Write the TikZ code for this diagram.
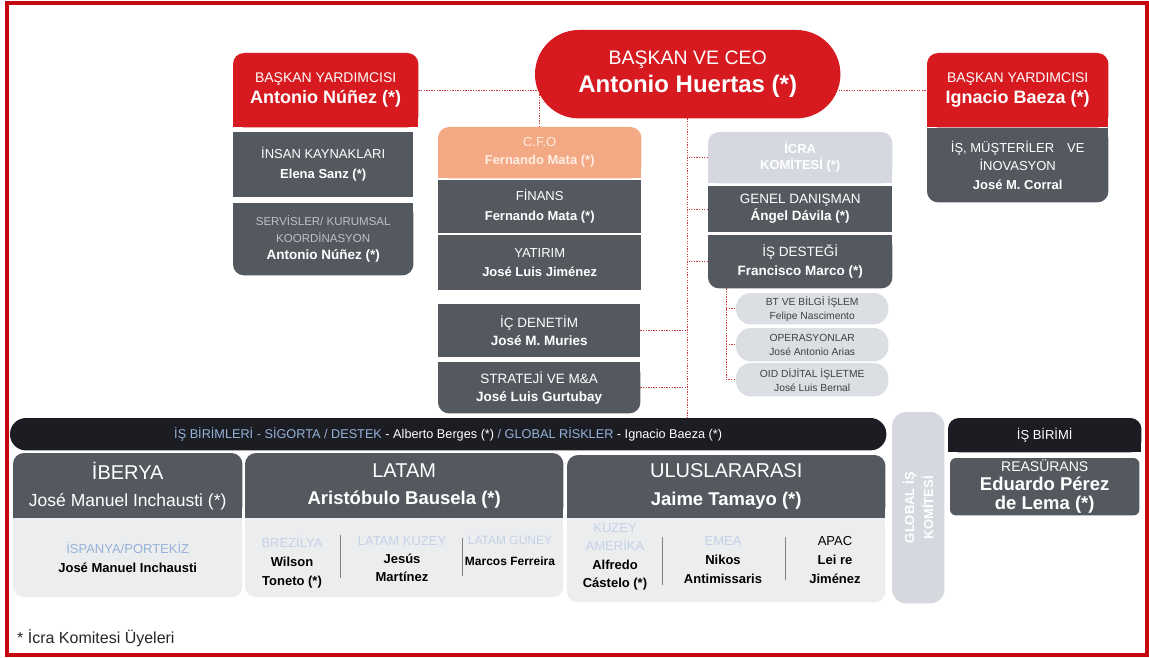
\documentclass[tikz,border=0pt]{standalone}
\usepackage{fontspec}
\setmainfont{Liberation Sans}
\usetikzlibrary{backgrounds}

\definecolor{mapred}{RGB}{214,26,31}
\definecolor{frame}{RGB}{198,8,16}
\definecolor{slate}{RGB}{84,89,96}
\definecolor{peach}{RGB}{243,170,132}
\definecolor{peachtxt}{RGB}{255,236,226}
\definecolor{mist}{RGB}{213,217,223}
\definecolor{pill}{RGB}{219,222,227}
\definecolor{ink}{RGB}{27,29,35}
\definecolor{paper}{RGB}{236,237,239}
\definecolor{sky}{RGB}{150,178,218}
\definecolor{pale}{RGB}{196,210,232}
\definecolor{lgray}{RGB}{190,194,199}
\definecolor{dots}{RGB}{200,60,60}

\newcommand\fsz[2]{\fontsize{#1}{#2}\selectfont}

\begin{document}
\begin{tikzpicture}[x=1pt, y=-1pt,
  box/.style={anchor=north west, inner sep=0pt, align=center, text=white},
  sz/.style 2 args={minimum width=#1, minimum height=#2},
  cell/.style={align=center, inner sep=0pt, text=black, font=\fsz{13}{19}},
  link/.style={draw=dots, line width=0.8pt, dash pattern=on 1.3pt off 1.3pt},
  sep/.style={draw=gray, line width=0.8pt},
]
\useasboundingbox (0,0) rectangle (1149,658);
\draw[frame, line width=4] (7,3) rectangle (1147,655);

% top of the chart
\node[box, sz={305}{88}, font=\fsz{19.5}{28}] (ceo) at (535,30) {BAŞKAN VE CEO\\\fsz{24}{28}\bfseries Antonio Huertas (*)};

\node[box, sz={185}{74}, font=\fsz{14}{21}] (vpl) at (233,53) {BAŞKAN YARDIMCISI\\\fsz{18}{21}\bfseries Antonio Núñez (*)};
\node[box, sz={180}{65}, font=\fsz{13}{20}] (hr) at (233,132) {İNSAN KAYNAKLARI\\\textbf{Elena Sanz (*)}};
\node[box, sz={180}{72}, font=\fsz{11.5}{17}] (svc) at (233,203) {\textcolor{lgray}{SERVİSLER/ KURUMSAL}\\\textcolor{lgray}{KOORDİNASYON}\\\fsz{13.5}{17}\textbf{Antonio Núñez (*)}};

\node[box, sz={203}{51}, font=\fsz{13}{18}, text=peachtxt] (cfo) at (438,127) {C.F.O\\\textbf{Fernando Mata (*)}};
\node[box, sz={203}{53}, font=\fsz{13}{20}] (fin) at (438,180) {FİNANS\\\textbf{Fernando Mata (*)}};
\node[box, sz={203}{55}, font=\fsz{13}{19}] (inv) at (438,235) {YATIRIM\\\textbf{José Luis Jiménez}};
\node[box, sz={202}{53}, font=\fsz{13.5}{18}] (aud) at (438,304) {İÇ DENETİM\\\textbf{José M. Muries}};
\node[box, sz={202}{51}, font=\fsz{13.5}{18}] (strat) at (438,362) {STRATEJİ VE M\&A\\\textbf{José Luis Gurtubay}};

\node[box, sz={184}{51}, font=\fsz{13}{16}\bfseries] (icra) at (708,132) {İCRA\\KOMİTESİ (*)};
\node[box, sz={184}{46}, font=\fsz{13.5}{17}] (gen) at (708,186) {GENEL DANIŞMAN\\\textbf{Ángel Dávila (*)}};
\node[box, sz={184}{53}, font=\fsz{13.5}{19}] (isd) at (708,235) {İŞ DESTEĞİ\\\textbf{Francisco Marco (*)}};
\node[box, sz={152}{31}, font=\fsz{10.3}{14}, text=black!75] (bt) at (736,293) {BT VE BİLGİ İŞLEM\\Felipe Nascimento};
\node[box, sz={152}{33}, font=\fsz{10.3}{14}, text=black!75] (ops) at (736,328) {OPERASYONLAR\\José Antonio Arias};
\node[box, sz={152}{33}, font=\fsz{10.3}{14}, text=black!75] (oid) at (736,363) {OID DİJİTAL İŞLETME\\José Luis Bernal};

\node[box, sz={181}{74}, font=\fsz{14}{21}] (vpr) at (927,53) {BAŞKAN YARDIMCISI\\\fsz{18}{21}\bfseries Ignacio Baeza (*)};
\node[box, sz={181}{74}, font=\fsz{13}{18.5}] (cust) at (927,128) {İŞ, MÜŞTERİLER\quad VE\\İNOVASYON\\\textbf{José M. Corral}};

% business units
\node[box, sz={876}{32}, font=\fsz{12.7}{15}] (bar) at (10,418) {\textcolor{sky}{İŞ BİRİMLERİ - SİGORTA / DESTEK} - Alberto Berges (*) \textcolor{sky}{/ GLOBAL RİSKLER} - Ignacio Baeza (*)};

\node[box, sz={229}{65}, font=\fsz{20}{27}] (ibh) at (13,453) {İBERYA\\\fsz{17.5}{27}José Manuel Inchausti (*)};
\node[box, sz={229}{79}, font=\fsz{13}{19}, text=black] (ibb) at (13,518) {\textcolor{sky}{İSPANYA/PORTEKİZ}\\\textbf{José Manuel Inchausti}};
\node[box, sz={318}{65}, font=\fsz{20}{27}] (lah) at (245,453) {LATAM\\\fsz{18.5}{27}\bfseries Aristóbulo Bausela (*)};
\node[box, sz={318}{79}] (lab) at (245,518) {};
\node[box, sz={318}{63}, font=\fsz{20}{28}] (ulh) at (567,455) {ULUSLARARASI\\\fsz{18.5}{28}\bfseries Jaime Tamayo (*)};
\node[box, sz={318}{84}] (ulb) at (567,518) {};

\node[cell] (brz) at (292,562) {\textcolor{pale}{BREZİLYA}\\\textbf{Wilson}\\\textbf{Toneto (*)}};
\node[cell, font=\fsz{13}{18}] (lkz) at (402,559) {\textcolor{pale}{LATAM KUZEY}\\\textbf{Jesús}\\\textbf{Martínez}};
\node[cell, font=\fsz{12}{21}] (lgn) at (510,550) {\textcolor{pale}{LATAM GÜNEY}\\\textbf{Marcos Ferreira}};
\node[cell, font=\fsz{13}{18.5}] (kam) at (615,557) {\textcolor{pale}{KUZEY}\\\textcolor{pale}{AMERİKA}\\\textbf{Alfredo}\\\textbf{Cástelo (*)}};
\node[cell, font=\fsz{13}{19}] (emea) at (723,560) {\textcolor{pale}{EMEA}\\\textbf{Nikos}\\\textbf{Antimissaris}};
\node[cell, font=\fsz{13}{19}] (apac) at (835,560) {APAC\\\textbf{Lei re}\\\textbf{Jiménez}};
\draw[sep] (340,535) -- (340,578);
\draw[sep] (462,538) -- (462,576);
\draw[sep] (662,537) -- (662,585);
\draw[sep] (785,537) -- (785,580);

\node[box, sz={52}{191}] (gik) at (892,412) {};
\node[rotate=90, align=center, text=white, font=\fsz{13}{19}\bfseries] (gikt) at (gik.center) {GLOBAL İŞ\\KOMİTESİ};
\node[box, sz={193}{34}, font=\fsz{13}{15}] (ibr) at (948,418) {İŞ BİRİMİ};
\node[box, sz={189}{57}, font=\fsz{14}{19}] (reas) at (950,458) {REASÜRANS\\\fsz{18.5}{19}\bfseries Eduardo Pérez\\\fsz{18.5}{19}\bfseries de Lema (*)};

\node[anchor=base west, inner sep=0pt, font=\fsz{16}{18}, text=black!85] (note) at (17,643) {* İcra Komitesi Üyeleri};

\begin{pgfonlayer}{background}
  % dotted reporting lines
  \draw[link] (vpl.east) -- (ceo.center |- vpl.east);
  \draw[link] (cfo.north) -- (cfo.north |- vpl.east);
  \draw[link] (ceo.center |- vpr.west) -- (vpr.west);
  \draw[link] (ceo.south) -- (ceo.south |- bar.north);
  \foreach \n in {icra, gen, isd} \draw[link] (\n.west) -- (\n.west -| ceo.south);
  \foreach \n in {aud, strat} \draw[link] (\n.east) -- (\n.east -| ceo.south);
  \coordinate (tap) at ([xshift=18]isd.south west);
  \draw[link] (tap) |- (oid.west);
  \foreach \n in {bt, ops} \draw[link] (\n.west -| tap) -- (\n.west);

  % boxes
  \fill[mapred, rounded corners=44] (ceo.south west) rectangle (ceo.north east);
  \foreach \n/\c in {vpl/mapred, vpr/mapred, cfo/peach, icra/mist, ibh/slate, lah/slate, ulh/slate, ibr/ink} {
    \fill[\c, rounded corners=11] (\n.south west) rectangle (\n.north east);
    \fill[\c] (\n.south west) rectangle (\n.east);
  }
  \foreach \n/\c in {svc/slate, strat/slate, isd/slate, cust/slate, ibb/paper, lab/paper, ulb/paper} {
    \fill[\c, rounded corners=11] (\n.south west) rectangle (\n.north east);
    \fill[\c] (\n.west) rectangle (\n.north east);
  }
  \foreach \n in {hr, fin, inv, aud, gen} \fill[slate] (\n.south west) rectangle (\n.north east);
  \foreach \n in {bt, ops, oid} \fill[pill, rounded corners=15] (\n.south west) rectangle (\n.north east);
  \fill[ink, rounded corners=16] (bar.south west) rectangle (bar.north east);
  \fill[mist, rounded corners=14] (gik.south west) rectangle (gik.north east);
  \fill[slate, rounded corners=6] (reas.south west) rectangle (reas.north east);
\end{pgfonlayer}
\end{tikzpicture}
\end{document}
